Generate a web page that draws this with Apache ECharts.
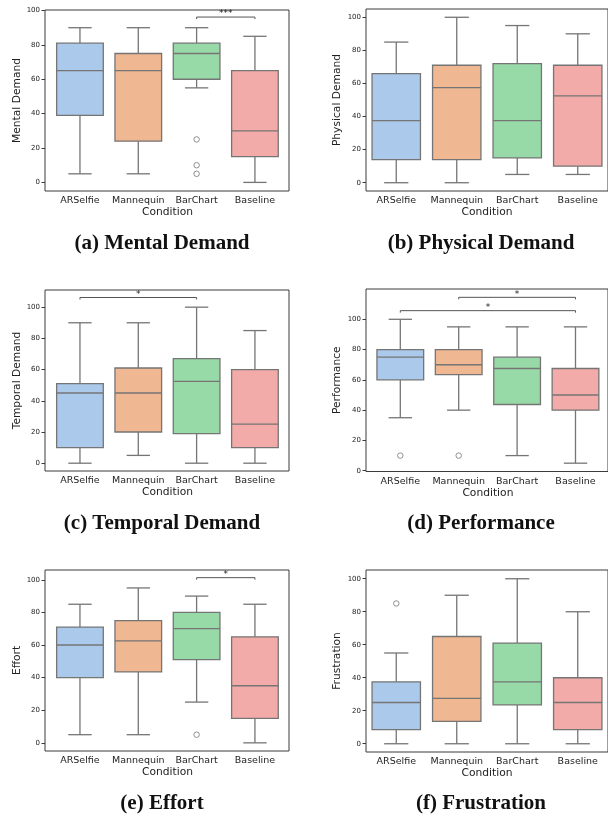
<!DOCTYPE html>
<html>
<head>
<meta charset="utf-8">
<script src="https://cdn.jsdelivr.net/npm/echarts@6/dist/echarts.min.js"></script>
<style>
  html, body { margin: 0; padding: 0; background: #fff; }
  #chart { width: 608px; height: 819px; }
</style>
</head>
<body>
<div id="chart"></div>
<script>
// ---- data ----
const categories = ["ARSelfie", "Mannequin", "BarChart", "Baseline"];
const yTicks = [0, 20, 40, 60, 80, 100];

// each box: [whisker low, Q1, median, Q3, whisker high]
const mentalBoxes = [[5, 39, 65, 81, 90], [5, 24, 65, 75, 90], [55, 60, 75, 81, 90], [0, 15, 30, 65, 85]];
const mentalOutliers = [[2, 25], [2, 10], [2, 5]];
const mentalBrackets = [[2, 3, 96.2, "***"]];

const physicalBoxes = [[0, 14, 37.5, 66, 85], [0, 14, 57.5, 71, 100], [5, 15, 37.5, 72, 95], [5, 10, 52.5, 71, 90]];
const physicalOutliers = [];
const physicalBrackets = [];

const temporalBoxes = [[0, 10, 45, 51, 90], [5, 20, 45, 61, 90], [0, 19, 52.5, 67, 100], [0, 10, 25, 60, 85]];
const temporalOutliers = [];
const temporalBrackets = [[0, 2, 106.2, "*"]];

const performanceBoxes = [[35, 60, 75, 80, 100], [40, 63.5, 70, 80, 95], [10, 43.75, 67.5, 75, 95], [5, 40, 50, 67.5, 95]];
const performanceOutliers = [[0, 10], [1, 10]];
const performanceBrackets = [[1, 3, 114.5, "*"], [0, 3, 105.7, "*"]];

const effortBoxes = [[5, 40, 60, 71, 85], [5, 43.5, 62.5, 75, 95], [25, 51, 70, 80, 90], [0, 15, 35, 65, 85]];
const effortOutliers = [[2, 5]];
const effortBrackets = [[2, 3, 101.3, "*"]];

const frustrationBoxes = [[0, 8.5, 25, 37.5, 55], [0, 13.5, 27.5, 65, 90], [0, 23.5, 37.5, 61, 100], [0, 8.5, 25, 40, 80]];
const frustrationOutliers = [[0, 85]];
const frustrationBrackets = [];

// ---- styling ----
const boxColors = ["#abc9ea", "#efb792", "#98daa7", "#f2aba8"];
const lineGray = "#757575";
const frameColor = "#3a3a3a";
const textColor = "#222";
const font = "DejaVu Sans";

const panels = [
  { title: "Mental Demand", caption: "(a) Mental Demand", boxes: mentalBoxes, outliers: mentalOutliers, brackets: mentalBrackets,
    yRange: [-5, 100.3], frame: [45, 10, 244, 181], inset: [5.8, 4.9], capX: 162, capY: 244 },
  { title: "Physical Demand", caption: "(b) Physical Demand", boxes: physicalBoxes, outliers: physicalOutliers, brackets: physicalBrackets,
    yRange: [-5, 105], frame: [366, 9, 245, 182], inset: [0, 0], capX: 481, capY: 244 },
  { title: "Temporal Demand", caption: "(c) Temporal Demand", boxes: temporalBoxes, outliers: temporalOutliers, brackets: temporalBrackets,
    yRange: [-5, 111], frame: [45, 290, 244, 181], inset: [5.8, 4.9], capX: 162, capY: 524 },
  { title: "Performance", caption: "(d) Performance", boxes: performanceBoxes, outliers: performanceOutliers, brackets: performanceBrackets,
    yRange: [-0.5, 120], frame: [366, 289, 244, 182.5], inset: [5.1, 5.3], capX: 481, capY: 524 },
  { title: "Effort", caption: "(e) Effort", boxes: effortBoxes, outliers: effortOutliers, brackets: effortBrackets,
    yRange: [-5, 106], frame: [45, 570, 244, 181], inset: [5.8, 4.9], capX: 162, capY: 804 },
  { title: "Frustration", caption: "(f) Frustration", boxes: frustrationBoxes, outliers: frustrationOutliers, brackets: frustrationBrackets,
    yRange: [-5, 105.3], frame: [366, 570, 245, 182], inset: [0, 0], capX: 481, capY: 804 }
];

function boxRenderer(params, api) {
  const x = api.value(0);
  const lo = api.coord([x, api.value(1)]);
  const q1 = api.coord([x, api.value(2)]);
  const md = api.coord([x, api.value(3)]);
  const q3 = api.coord([x, api.value(4)]);
  const hi = api.coord([x, api.value(5)]);
  const bw = api.size([1, 0])[0] * 0.8;
  const cx = lo[0];
  const ls = { stroke: lineGray, lineWidth: 1.3 };
  return {
    type: "group",
    children: [
      { type: "line", shape: { x1: cx, y1: q3[1], x2: cx, y2: hi[1] }, style: ls },
      { type: "line", shape: { x1: cx, y1: q1[1], x2: cx, y2: lo[1] }, style: ls },
      { type: "line", shape: { x1: cx - bw / 4, y1: hi[1], x2: cx + bw / 4, y2: hi[1] }, style: ls },
      { type: "line", shape: { x1: cx - bw / 4, y1: lo[1], x2: cx + bw / 4, y2: lo[1] }, style: ls },
      { type: "rect", shape: { x: cx - bw / 2, y: q3[1], width: bw, height: q1[1] - q3[1] },
        style: { fill: boxColors[params.dataIndex], stroke: lineGray, lineWidth: 1.3 } },
      { type: "line", shape: { x1: cx - bw / 2, y1: md[1], x2: cx + bw / 2, y2: md[1] }, style: ls }
    ]
  };
}

function bracketRenderer(brackets) {
  return function (params, api) {
    const a = api.coord([api.value(0), api.value(2)]);
    const b = api.coord([api.value(1), api.value(2)]);
    return {
      type: "group",
      children: [
        { type: "polyline", shape: { points: [[a[0], a[1] + 2], a, b, [b[0], b[1] + 2]] },
          style: { stroke: "#555", lineWidth: 1, fill: null } },
        { type: "text", x: (a[0] + b[0]) / 2, y: a[1] + 1.5,
          style: { text: brackets[params.dataIndex][3], fill: textColor, font: "9px DejaVu Sans",
                   align: "center", verticalAlign: "bottom" } }
      ]
    };
  };
}

const grid = [], xAxis = [], yAxis = [], series = [], graphic = [];

panels.forEach((p, i) => {
  const [fl, ft, fw, fh] = p.frame;
  // frame (the axes box)
  grid.push({ left: fl, top: ft, width: fw, height: fh, show: true, borderColor: frameColor, borderWidth: 1,
              backgroundColor: "transparent" });
  // data area, inset so the categories sit like in the original
  const gi = grid.length;
  grid.push({ left: fl + p.inset[0], top: ft, width: fw - p.inset[0] - p.inset[1], height: fh, show: false });

  xAxis.push({
    type: "category", gridIndex: gi, data: categories, boundaryGap: true,
    axisLine: { show: false },
    axisTick: { alignWithLabel: true, length: 3.5, lineStyle: { color: frameColor, width: 1 } },
    axisLabel: { fontFamily: font, fontSize: 9.5, color: textColor, margin: 5, interval: 0 },
    name: "Condition", nameLocation: "middle", nameGap: 15,
    nameTextStyle: { fontFamily: font, fontSize: 10.7, color: textColor }
  });
  yAxis.push({
    type: "value", gridIndex: gi, min: p.yRange[0], max: p.yRange[1], offset: p.inset[0],
    axisLine: { show: false }, splitLine: { show: false },
    axisTick: { show: true, length: 3.5, customValues: yTicks, lineStyle: { color: frameColor, width: 1 } },
    axisLabel: { customValues: yTicks, fontFamily: font, fontSize: 7, color: textColor, margin: 5 },
    name: p.title, nameLocation: "middle", nameGap: i % 2 === 0 ? 21.5 : 23.5,
    nameTextStyle: { fontFamily: font, fontSize: 10.7, color: textColor }
  });
  const ai = xAxis.length - 1;

  series.push({
    type: "custom", xAxisIndex: ai, yAxisIndex: ai,
    data: p.boxes.map((b, k) => [k].concat(b)),
    encode: { x: 0, y: [1, 2, 3, 4, 5] },
    renderItem: boxRenderer, silent: true
  });
  if (p.outliers.length) {
    series.push({
      type: "scatter", xAxisIndex: ai, yAxisIndex: ai, data: p.outliers,
      symbol: "circle", symbolSize: 5.5, silent: true,
      itemStyle: { color: "rgba(0,0,0,0)", borderColor: lineGray, borderWidth: 1 }
    });
  }
  if (p.brackets.length) {
    series.push({
      type: "custom", xAxisIndex: ai, yAxisIndex: ai,
      data: p.brackets.map(b => [b[0], b[1], b[2]]),
      encode: { x: [0, 1], y: 2 },
      renderItem: bracketRenderer(p.brackets), silent: true
    });
  }
  graphic.push({
    type: "text", x: p.capX, y: p.capY,
    style: { text: p.caption, font: "bold 21px 'Liberation Serif'", fill: "#111",
             align: "center", verticalAlign: "middle" }
  });
});

const chart = echarts.init(document.getElementById("chart"), null, { renderer: "canvas" });
chart.setOption({
  animation: false,
  backgroundColor: "#fff",
  grid: grid,
  xAxis: xAxis,
  yAxis: yAxis,
  series: series,
  graphic: graphic
});
</script>
</body>
</html>
